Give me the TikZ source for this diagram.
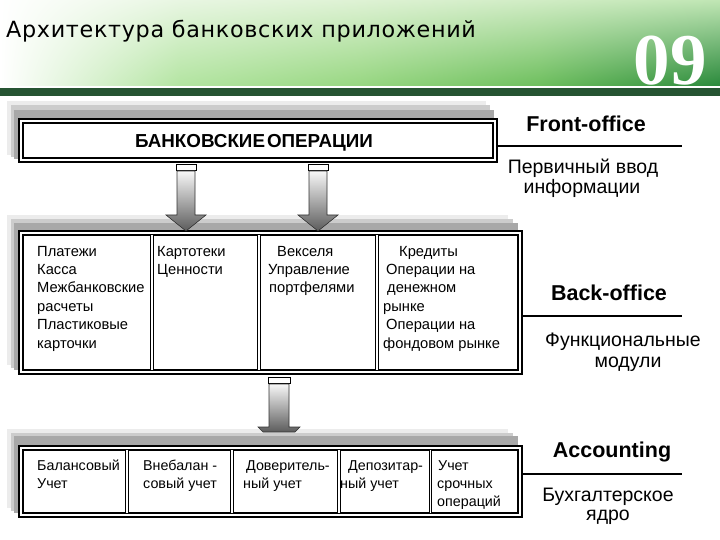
\documentclass[tikz,border=0pt]{standalone}
\usepackage{fontspec}
\setmainfont{Liberation Sans}
\newfontfamily\titlefont[LetterSpace=3]{DejaVu Sans}
\newfontfamily\numfont{Liberation Serif}
\usetikzlibrary{calc,shadings}
\definecolor{hgT1}{RGB}{232,246,226}
\definecolor{hgB1}{RGB}{178,228,160}
\definecolor{hgT2}{RGB}{222,242,212}
\definecolor{hgB2}{RGB}{150,214,128}
\definecolor{hgT3}{RGB}{208,236,196}
\definecolor{hgB3}{RGB}{108,190,92}
\definecolor{hgT4}{RGB}{192,230,180}
\definecolor{hgB4}{RGB}{40,136,58}
\definecolor{hband}{RGB}{38,84,50}
\begin{document}
\begin{tikzpicture}[x=1pt,y=-1pt,
  frame/.style={draw=black, line width=1.6pt, double=white, double distance=2.4pt, fill=white, inner sep=0pt},
  divl/.style={draw=black, line width=0.9pt, double=white, double distance=1.8pt},
  cell/.style={anchor=north west, align=left, inner sep=0pt, font=\fontsize{14.7}{18.4}\selectfont},
  bcell/.style={anchor=north west, align=left, inner sep=0pt, font=\fontsize{14.3}{18}\selectfont},
  lbl/.style={anchor=base, inner sep=0pt, font=\bfseries\fontsize{21.5}{24}\selectfont},
  sub/.style={anchor=base, inner sep=0pt, font=\fontsize{19.5}{22}\selectfont},
  rule/.style={draw=black, line width=2pt},
  sha/.style={fill=gray!15}, shb/.style={fill=gray!40}, shc/.style={fill=gray!68},
  arrowbody/.style={top color=gray!6, bottom color=gray!72!black, draw=gray!40!black, line width=0.6pt},
  barbox/.style={fill=white, draw=black, line width=0.9pt},
  pics/fullarrow/.style={code={
    \path[barbox] (-10,0) rectangle (10,6);
    \path[arrowbody] (-9,7) -- (9,7) -- (9,51) -- (20,51) -- (0,67) -- (-20,51) -- (-9,51) -- cycle;
  }},
  pics/stubarrow/.style={code={
    \path[barbox] (-11,2) rectangle (11,8);
    \path[arrowbody] (-10,9) -- (10,9) -- (10,52) -- (21,52) -- (16,57) -- (-16,57) -- (-21,52) -- (-10,52) -- cycle;
  }}
]
\useasboundingbox (0,0) rectangle (720,540);
\fill[white] (0,0) rectangle (720,540);
% header
\shade[upper left=white, lower left=white, upper right=hgT1, lower right=hgB1] (0,0) rectangle (180.5,87);
\shade[upper left=hgT1, lower left=hgB1, upper right=hgT2, lower right=hgB2] (180,0) rectangle (360.5,87);
\shade[upper left=hgT2, lower left=hgB2, upper right=hgT3, lower right=hgB3] (360,0) rectangle (540.5,87);
\shade[upper left=hgT3, lower left=hgB3, upper right=hgT4, lower right=hgB4] (540,0) rectangle (720,87);
\fill[white] (0,86.5) rectangle (720,88.5);
\fill[hband] (0,88.5) rectangle (720,96);
\node[anchor=base west, inner sep=0pt, font=\titlefont\fontsize{22.3}{26}\selectfont] (title) at (6,37.5) {Архитектура банковских приложений};
\node[anchor=base, inner sep=0pt, text=white, font=\numfont\bfseries\fontsize{73}{80}\selectfont] (num) at (670,85) {09};

% shadows
\fill[sha] (7,101) rectangle (486,155);
\fill[shb] (11,105) rectangle (490,157);
\fill[shc] (14,110) rectangle (494,159);
\fill[sha] (7,215) rectangle (508,365);
\fill[shb] (11,219) rectangle (513,368);
\fill[shc] (14,223) rectangle (518,370);
\fill[sha] (7,429) rectangle (508,508);
\fill[shb] (11,433) rectangle (513,511);
\fill[shc] (14,436) rectangle (518,513);

% boxes
\node[frame, minimum width=474pt, minimum height=39pt] (front) at (258,140.5) {};
\node[anchor=base, inner sep=0pt, font=\bfseries\fontsize{18.8}{20}\selectfont] (ops) at (254,147.5) {БАНКОВСКИЕ\hspace{2pt}ОПЕРАЦИИ};

\node[frame, minimum width=499pt, minimum height=139pt] (mid) at (270.5,302.5) {};
\foreach \dx in {152,259,377} \draw[divl] (\dx,235) -- (\dx,370);

\node[frame, minimum width=499pt, minimum height=67pt] (acc) at (270.5,481.5) {};
\foreach \dx in {127,232,339,430.5} \draw[divl] (\dx,450) -- (\dx,513);

% middle texts
\node[cell] (c1) at (37,243) {\strut Платежи\\Касса\\Межбанковские\\расчеты\\Пластиковые\\карточки};
\node[cell] (c2) at (157,243) {\strut Картотеки\\Ценности};
\node[cell] (c3) at (268,243) {\strut\hspace{9pt}Векселя\\Управление\\\hspace{1pt}портфелями};
\node[cell] (c4) at (383,243) {\strut\hspace{16pt}Кредиты\\\hspace{3pt}Операции на\\\hspace{4pt}денежном\\рынке\\\hspace{3pt}Операции на\\фондовом рынке};

% bottom texts
\node[bcell] (d1) at (37,457.4) {\strut Балансовый\\Учет};
\node[bcell] (d2) at (143,457.4) {\strut Внебалан -\\совый учет};
\node[bcell] (d3) at (243,457.4) {\strut\hspace{3pt}Доверитель-\\ный учет};
\node[bcell] (d4) at (340,457.4) {\strut\hspace{8pt}Депозитар-\\ный учет};
\node[bcell] (d5) at (437,457.4) {\strut\hspace{1pt}Учет\\срочных\\операций};

% arrows
\coordinate (a1) at (186,164);
\coordinate (a2) at (318,164);
\coordinate (a3) at (279,375);
\pic at (a1) {fullarrow};
\pic at (a2) {fullarrow};
\pic at (a3) {stubarrow};

% right labels
\node[lbl] (fo) at (586,132) {Front-office};
\coordinate (foR) at (682,146);
\draw[rule] (front.east |- foR) ++(2,0) -- (foR);
\node[sub] (fo1) at (583,174) {Первичный ввод};
\node[sub] (fo2) at (582,194) {информации};

\node[lbl] (bo) at (609,300) {Back-office};
\coordinate (boR) at (682,316);
\draw[rule] (mid.east |- boR) ++(2,0) -- (boR);
\node[sub] (bo1) at (623,346) {Функциональные};
\node[sub] (bo2) at (628,367) {модули};

\node[lbl] (ac) at (612,457) {Accounting};
\coordinate (acR) at (682,474);
\draw[rule] (acc.east |- acR) ++(2,0) -- (acR);
\node[sub] (ac1) at (608,501) {Бухгалтерское};
\node[sub] (ac2) at (608,520) {ядро};
\end{tikzpicture}
\end{document}
